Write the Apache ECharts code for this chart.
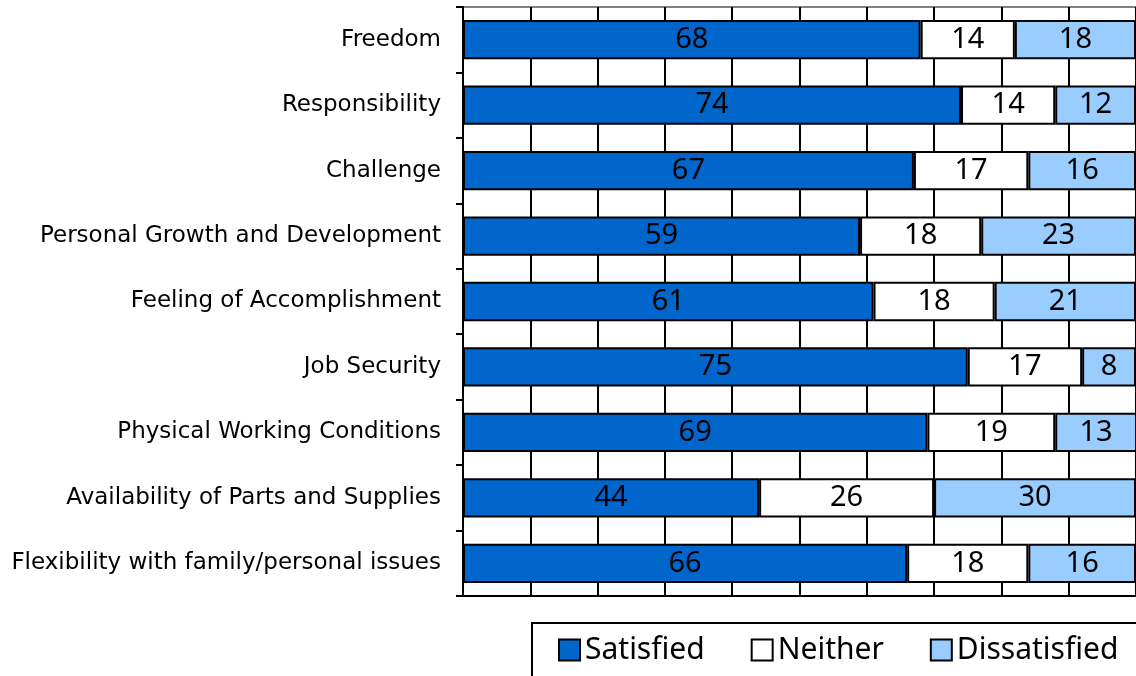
<!DOCTYPE html>
<html>
<head>
<meta charset="utf-8">
<script src="https://cdn.jsdelivr.net/npm/echarts@6/dist/echarts.min.js"></script>
<style>
  html, body { margin: 0; padding: 0; background: #fff; }
  #chart { width: 1136px; height: 676px; }
</style>
</head>
<body>
<div id="chart"></div>
<script>
const categories = [
  "Freedom",
  "Responsibility",
  "Challenge",
  "Personal Growth and Development",
  "Feeling of Accomplishment",
  "Job Security",
  "Physical Working Conditions",
  "Availability of Parts and Supplies",
  "Flexibility with family/personal issues"
];
const satisfied = [68, 74, 67, 59, 61, 75, 69, 44, 66];
const neither = [14, 14, 17, 18, 18, 17, 19, 26, 18];
const dissatisfied = [18, 12, 16, 23, 21, 8, 13, 30, 16];

let myChart = echarts.init(document.getElementById("chart"));

function barSeries(name, data, color) {
  return {
    name: name,
    type: "bar",
    stack: "total",
    data: data,
    barCategoryGap: "40%",
    itemStyle: {
      color: color,
      borderColor: "#000",
      borderWidth: 2
    },
    label: {
      show: true,
      position: "inside",
      color: "#000",
      fontFamily: "Noto Sans",
      fontSize: 29
    }
  };
}

let option = {
  animation: false,
  grid: {
    left: 463,
    right: 0,
    top: 7,
    bottom: 80,
    show: true,
    borderColor: "#000",
    borderWidth: 1
  },
  legend: {
    data: ["Satisfied", "Neither", "Dissatisfied"],
    left: 532,
    top: 623,
    width: 620,
    icon: "rect",
    itemWidth: 21,
    itemHeight: 21,
    itemGap: 46,
    padding: [12, 40, 40, 26],
    borderColor: "#000",
    borderWidth: 2,
    textStyle: {
      fontFamily: "Noto Sans",
      fontSize: 30,
      color: "#000"
    }
  },
  xAxis: {
    type: "value",
    min: 0,
    max: 100,
    interval: 10,
    axisLabel: { show: false },
    axisTick: { show: false },
    axisLine: { show: true, lineStyle: { color: "#000", width: 2 } },
    splitLine: { show: true, lineStyle: { color: "#000", width: 2 } }
  },
  yAxis: {
    type: "category",
    inverse: true,
    data: categories,
    axisLine: { show: true, lineStyle: { color: "#000", width: 2 } },
    axisTick: { show: true, length: 7, lineStyle: { color: "#000", width: 2 } },
    axisLabel: {
      color: "#000",
      fontFamily: "DejaVu Sans",
      fontSize: 23,
      margin: 22
    }
  },
  series: [
    barSeries("Satisfied", satisfied, "#0066cc"),
    barSeries("Neither", neither, "#ffffff"),
    barSeries("Dissatisfied", dissatisfied, "#99ccff")
  ]
};

myChart.setOption(option);
</script>
</body>
</html>
